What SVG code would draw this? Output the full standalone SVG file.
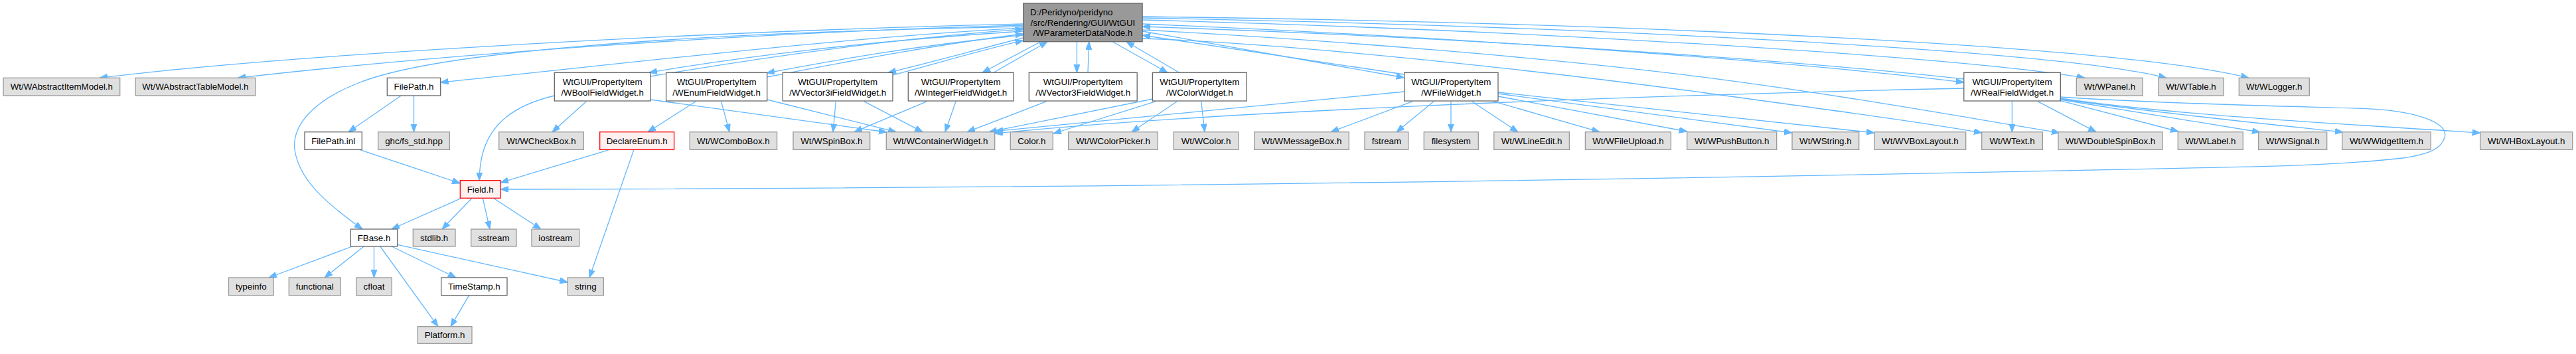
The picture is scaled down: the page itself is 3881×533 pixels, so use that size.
<svg xmlns="http://www.w3.org/2000/svg" width="3881" height="533" viewBox="0 0 3881 533">
<style>
rect{stroke-width:1.3}
.g rect{fill:#e0e0e0;stroke:#999999}
.w rect{fill:#ffffff;stroke:#666666}
.r rect{fill:#fff0f0;stroke:#ff0000}
.root rect{fill:#999999;stroke:#666666}
text{font-family:"Liberation Sans",Arial,Helvetica,sans-serif;font-size:13.33px;fill:#000;text-anchor:middle}
#edges path{fill:none;stroke:#63b8ff;stroke-width:1.3;marker-end:url(#ah)}
</style>
<defs>
<marker id="ah" markerUnits="userSpaceOnUse" markerWidth="13" markerHeight="10" refX="12" refY="4.5" orient="auto">
<path d="M0,0 L12,4.5 L0,9 z" fill="#63b8ff" stroke="#63b8ff" stroke-width="1"/>
</marker>
</defs>
<rect width="3881" height="533" fill="#ffffff"/>
<g id="edges">
<path d="M1541.7,36 C1100,46 450,80 150,117.3"/>
<path d="M1541.7,38 C1100,50 650,84 358,117.3"/>
<path d="M1541.7,40 C1000,50 650,80 540,125 C470,152 440,190 444,225 C450,270 490,305 546,345"/>
<path d="M1541.7,42 C1250,58 950,95 663.7,124"/>
<path d="M1541.7,47 C1300,62 1100,88 978,109.3"/>
<path d="M980,115 C1150,86 1350,58 1541.7,44"/>
<path d="M1541.7,53 C1380,68 1250,92 1155,110"/>
<path d="M1155.7,116 C1300,88 1420,66 1541.7,51"/>
<path d="M1541.7,57 C1470,75 1400,95 1338,109.3"/>
<path d="M1345,113 C1420,93 1480,75 1541.7,61"/>
<path d="M1568,62.7 L1480,109.3"/>
<path d="M1497,109.3 L1578,62.7"/>
<path d="M1622.4,62.7 L1622.4,109.3"/>
<path d="M1639,109.3 L1640.7,62.7"/>
<path d="M1676,62.7 L1759,109.3"/>
<path d="M1776.6,109.3 L1697,62.7"/>
<path d="M1721.1,47 L2115.7,117"/>
<path d="M2115.7,112 L1721.1,53"/>
<path d="M1721.1,36 C2200,56 2700,92 2958.8,124"/>
<path d="M2958.8,119 C2700,90 2200,56 1721.1,40"/>
<path d="M1721.1,30 C2300,45 2950,85 3141,117.3"/>
<path d="M1721.1,27 C2400,40 3100,75 3264,117.3"/>
<path d="M1721.1,25 C2500,35 3200,70 3388,117.3"/>
<path d="M1721.1,45 C2000,60 2350,88 2570,116.7 S2950,175 3103,200"/>
<path d="M1721.1,58 C1950,65 2350,110 2570,140 S2900,185 2986,200"/>
<path d="M835.3,144 C760,162 722,200 722.3,271.7"/>
<path d="M883.3,152.7 L832,198.7"/>
<path d="M980,150 L1336,199"/>
<path d="M1048.3,152.7 L976,198.7"/>
<path d="M1086.5,152.7 L1099,198.7"/>
<path d="M1155.7,150 L1350,198.7"/>
<path d="M1259.3,152.7 L1255,198.7"/>
<path d="M1301.7,152.7 L1390,198.7"/>
<path d="M1396.7,152.7 L1287,198.7"/>
<path d="M1440,152.7 L1424,198.7"/>
<path d="M1576.7,152.7 L1457,198.7"/>
<path d="M1736.4,149 L1490,198.7"/>
<path d="M1741.4,152.7 L1587,201"/>
<path d="M1773.3,152.7 L1705,198.7"/>
<path d="M1809.8,152.7 L1815,198.7"/>
<path d="M2115.7,138 L1499,197.5"/>
<path d="M2128.3,152.7 L2005,198.7"/>
<path d="M2160,152.7 L2104,198.7"/>
<path d="M2186,152.7 L2186,198.7"/>
<path d="M2217.6,152.7 L2287,198.7"/>
<path d="M2250,152.7 L2410,198.7"/>
<path d="M2257,145 L2541.7,198"/>
<path d="M2257,141 L2700,200"/>
<path d="M2257,139 L2824,200"/>
<path d="M2958.8,133 C2400,145 1800,170 1499,201"/>
<path d="M3031.4,152.7 L3031.4,198.7"/>
<path d="M3069.9,152.7 L3158,198.7"/>
<path d="M3104.3,151.7 L3282,198"/>
<path d="M3104.3,150 L3405,199"/>
<path d="M3104.3,149 C3250,170 3400,185 3530,199"/>
<path d="M3104.3,148 C3250,170 3450,182 3736.7,200"/>
<path d="M3104.3,146 C3250,156 3450,160 3560,163.3 C3640,166 3690,185 3683,207 C3678,224 3660,232 3620,238 C3540,247 3450,250 3360,251.7 C2700,266 1700,284 754,285"/>
<path d="M918.3,225.3 L754,275"/>
<path d="M955,225.3 L888,418"/>
<path d="M604.3,144 L525,198.7"/>
<path d="M623.5,144 L623.5,198.7"/>
<path d="M541.7,225.3 L693.3,276"/>
<path d="M695,298.3 L590,345"/>
<path d="M711,298.3 L666,345"/>
<path d="M727.3,298.3 L738,345"/>
<path d="M743.3,298.3 L815,345"/>
<path d="M530.6,371 L405,418"/>
<path d="M548.3,371 L489,418"/>
<path d="M563.5,371 L563.5,418"/>
<path d="M572.7,371 L660,491.7"/>
<path d="M590,371 L687,418"/>
<path d="M598.7,368.3 L855.3,425"/>
<path d="M706.7,444.7 L679,491.7"/>
</g>
<g id="n_root" class="root"><rect x="1541.7" y="5" width="179.4" height="57.7"/><text x="1552" y="23.1" style="text-anchor:start">D:/Peridyno/peridyno</text><text x="1631.4" y="38.5">/src/Rendering/GUI/WtGUI</text><text x="1631.4" y="54.1">/WParameterDataNode.h</text></g>
<g id="n_itemmodel" class="g"><rect x="5" y="117.3" width="175.7" height="26.7"/><text x="92.85" y="135.3">Wt/WAbstractItemModel.h</text></g>
<g id="n_tablemodel" class="g"><rect x="204" y="117.3" width="180.7" height="26.7"/><text x="294.35" y="135.3">Wt/WAbstractTableModel.h</text></g>
<g id="n_filepath" class="w"><rect x="583.3" y="117.3" width="80.4" height="26.7"/><text x="623.5" y="135.3">FilePath.h</text></g>
<g id="n_wpanel" class="g"><rect x="3128.3" y="117.3" width="100" height="26.7"/><text x="3178.3" y="135.3">Wt/WPanel.h</text></g>
<g id="n_wtable" class="g"><rect x="3252" y="117.3" width="98" height="26.7"/><text x="3301" y="135.3">Wt/WTable.h</text></g>
<g id="n_wlogger" class="g"><rect x="3373.3" y="117.3" width="106" height="26.7"/><text x="3426.3" y="135.3">Wt/WLogger.h</text></g>
<g id="n_bool" class="w"><rect x="835.3" y="109.3" width="144.7" height="42.7"/><text x="907.65" y="128.1">WtGUI/PropertyItem</text><text x="907.65" y="143.5">/WBoolFieldWidget.h</text></g>
<g id="n_enum" class="w"><rect x="1003.6" y="109.3" width="152.1" height="42.7"/><text x="1079.65" y="128.1">WtGUI/PropertyItem</text><text x="1079.65" y="143.5">/WEnumFieldWidget.h</text></g>
<g id="n_vec3i" class="w"><rect x="1179.3" y="109.3" width="165.7" height="42.7"/><text x="1262.15" y="128.1">WtGUI/PropertyItem</text><text x="1262.15" y="143.5">/WVector3iFieldWidget.h</text></g>
<g id="n_int" class="w"><rect x="1368.3" y="109.3" width="158.7" height="42.7"/><text x="1447.65" y="128.1">WtGUI/PropertyItem</text><text x="1447.65" y="143.5">/WIntegerFieldWidget.h</text></g>
<g id="n_vec3" class="w"><rect x="1550.3" y="109.3" width="162.9" height="42.7"/><text x="1631.75" y="128.1">WtGUI/PropertyItem</text><text x="1631.75" y="143.5">/WVector3FieldWidget.h</text></g>
<g id="n_color" class="w"><rect x="1736.4" y="109.3" width="141.8" height="42.7"/><text x="1807.3" y="128.1">WtGUI/PropertyItem</text><text x="1807.3" y="143.5">/WColorWidget.h</text></g>
<g id="n_file" class="w"><rect x="2115.7" y="109.3" width="141.3" height="42.7"/><text x="2186.35" y="128.1">WtGUI/PropertyItem</text><text x="2186.35" y="143.5">/WFileWidget.h</text></g>
<g id="n_real" class="w"><rect x="2958.8" y="109.3" width="145.5" height="42.7"/><text x="3031.55" y="128.1">WtGUI/PropertyItem</text><text x="3031.55" y="143.5">/WRealFieldWidget.h</text></g>
<g id="n_filepathinl" class="w"><rect x="459" y="198.7" width="86.3" height="26.6"/><text x="502.15" y="216.7">FilePath.inl</text></g>
<g id="n_ghc" class="g"><rect x="569.7" y="198.7" width="107.6" height="26.6"/><text x="623.5" y="216.7">ghc/fs_std.hpp</text></g>
<g id="n_checkbox" class="g"><rect x="751.7" y="198.7" width="127.6" height="26.6"/><text x="815.5" y="216.7">Wt/WCheckBox.h</text></g>
<g id="n_declareenum" class="r"><rect x="903.7" y="198.7" width="111.9" height="26.6"/><text x="959.65" y="216.7">DeclareEnum.h</text></g>
<g id="n_combobox" class="g"><rect x="1039.2" y="198.7" width="131.4" height="26.6"/><text x="1104.9" y="216.7">Wt/WComboBox.h</text></g>
<g id="n_spinbox" class="g"><rect x="1195" y="198.7" width="115.7" height="26.6"/><text x="1252.85" y="216.7">Wt/WSpinBox.h</text></g>
<g id="n_container" class="g"><rect x="1335.3" y="198.7" width="163.4" height="26.6"/><text x="1417" y="216.7">Wt/WContainerWidget.h</text></g>
<g id="n_colorh" class="g"><rect x="1522.3" y="198.7" width="64" height="26.6"/><text x="1554.3" y="216.7">Color.h</text></g>
<g id="n_colorpicker" class="g"><rect x="1609.6" y="198.7" width="134.7" height="26.6"/><text x="1676.95" y="216.7">Wt/WColorPicker.h</text></g>
<g id="n_wcolor" class="g"><rect x="1768.3" y="198.7" width="97.5" height="26.6"/><text x="1817.05" y="216.7">Wt/WColor.h</text></g>
<g id="n_messagebox" class="g"><rect x="1889.7" y="198.7" width="142.6" height="26.6"/><text x="1961" y="216.7">Wt/WMessageBox.h</text></g>
<g id="n_fstream" class="g"><rect x="2056" y="198.7" width="65.7" height="26.6"/><text x="2088.85" y="216.7">fstream</text></g>
<g id="n_filesystem" class="g"><rect x="2145.3" y="198.7" width="82" height="26.6"/><text x="2186.3" y="216.7">filesystem</text></g>
<g id="n_lineedit" class="g"><rect x="2250.8" y="198.7" width="113.6" height="26.6"/><text x="2307.6" y="216.7">Wt/WLineEdit.h</text></g>
<g id="n_fileupload" class="g"><rect x="2388.4" y="198.7" width="129" height="26.6"/><text x="2452.9" y="216.7">Wt/WFileUpload.h</text></g>
<g id="n_pushbutton" class="g"><rect x="2541.7" y="198.7" width="135" height="26.6"/><text x="2609.2" y="216.7">Wt/WPushButton.h</text></g>
<g id="n_wstring" class="g"><rect x="2700" y="198.7" width="100.7" height="26.6"/><text x="2750.35" y="216.7">Wt/WString.h</text></g>
<g id="n_vbox" class="g"><rect x="2824.1" y="198.7" width="137.6" height="26.6"/><text x="2892.9" y="216.7">Wt/WVBoxLayout.h</text></g>
<g id="n_wtext" class="g"><rect x="2985.7" y="198.7" width="91.7" height="26.6"/><text x="3031.55" y="216.7">Wt/WText.h</text></g>
<g id="n_dsb" class="g"><rect x="3101" y="198.7" width="157" height="26.6"/><text x="3179.5" y="216.7">Wt/WDoubleSpinBox.h</text></g>
<g id="n_wlabel" class="g"><rect x="3281.3" y="198.7" width="98" height="26.6"/><text x="3330.3" y="216.7">Wt/WLabel.h</text></g>
<g id="n_wsignal" class="g"><rect x="3402.7" y="198.7" width="103" height="26.6"/><text x="3454.2" y="216.7">Wt/WSignal.h</text></g>
<g id="n_widgetitem" class="g"><rect x="3528.7" y="198.7" width="133.6" height="26.6"/><text x="3595.5" y="216.7">Wt/WWidgetItem.h</text></g>
<g id="n_hbox" class="g"><rect x="3736.7" y="198.7" width="139" height="26.6"/><text x="3806.2" y="216.7">Wt/WHBoxLayout.h</text></g>
<g id="n_field" class="r"><rect x="693.3" y="271.7" width="60.7" height="26.6"/><text x="723.65" y="289.7">Field.h</text></g>
<g id="n_fbase" class="w"><rect x="528.3" y="345" width="70.4" height="26"/><text x="563.5" y="362.7">FBase.h</text></g>
<g id="n_stdlib" class="g"><rect x="622.3" y="345" width="63.7" height="26"/><text x="654.15" y="362.7">stdlib.h</text></g>
<g id="n_sstream" class="g"><rect x="709.7" y="345" width="68.3" height="26"/><text x="743.85" y="362.7">sstream</text></g>
<g id="n_iostream" class="g"><rect x="801" y="345" width="71.7" height="26"/><text x="836.85" y="362.7">iostream</text></g>
<g id="n_typeinfo" class="g"><rect x="344.5" y="418" width="67.6" height="26.7"/><text x="378.3" y="436">typeinfo</text></g>
<g id="n_functional" class="g"><rect x="435.3" y="418" width="77.9" height="26.7"/><text x="474.25" y="436">functional</text></g>
<g id="n_cfloat" class="g"><rect x="536.7" y="418" width="53.6" height="26.7"/><text x="563.5" y="436">cfloat</text></g>
<g id="n_timestamp" class="w"><rect x="664.7" y="418" width="99.3" height="26.7"/><text x="714.35" y="436">TimeStamp.h</text></g>
<g id="n_string" class="g"><rect x="855.3" y="418" width="54" height="26.7"/><text x="882.3" y="436">string</text></g>
<g id="n_platform" class="g"><rect x="629.3" y="491.7" width="81.7" height="25.6"/><text x="670.15" y="509.2">Platform.h</text></g>
</svg>
